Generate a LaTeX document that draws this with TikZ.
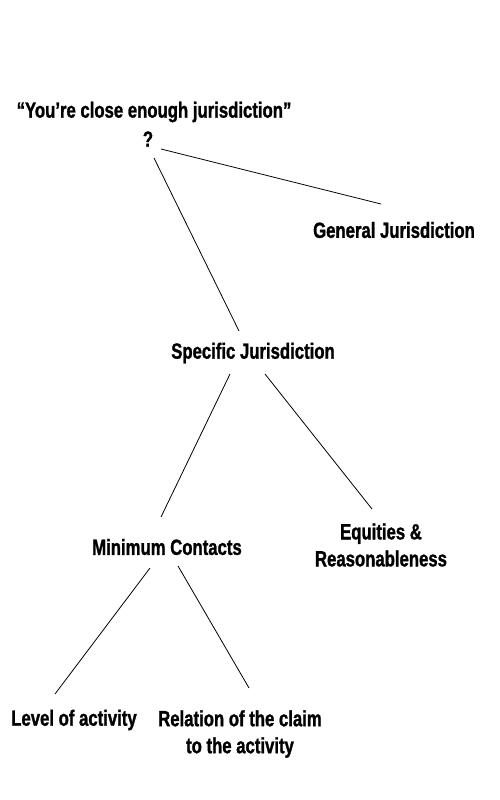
\documentclass[tikz,border=0pt]{standalone}
\usepackage{fontspec}
\setmainfont{Liberation Sans}[FakeStretch=0.76,BoldFeatures={FakeBold=1.2}]
\begin{document}
\begin{tikzpicture}[x=1pt,y=-1pt,
  lbl/.style={font=\fontsize{22}{27}\selectfont\bfseries, align=center, inner sep=0pt},
  conn/.style={line width=0.8pt, black}]
\useasboundingbox (0,0) rectangle (500,800);
\node[lbl] (close) at (154,112) {“You’re close enough jurisdiction”};
\node[lbl] (q) at (148,139) {?};
\node[lbl] (gen) at (394,230) {General Jurisdiction};
\node[lbl] (spec) at (253,353) {Specific Jurisdiction};
\node[lbl] (min) at (167,547) {Minimum Contacts};
\node[lbl] (eq) at (381,545) {Equities \&\\Reasonableness};
\node[lbl] (lev) at (74,720) {Level of activity};
\node[lbl] (rel) at (240,734) {Relation of the claim\\to the activity};
\coordinate (q1) at (161,149);
\coordinate (g1) at (381,204);
\coordinate (q2) at (154,158);
\coordinate (s1) at (239,331);
\coordinate (s2) at (230,374);
\coordinate (m1) at (161,517);
\coordinate (s3) at (265,374);
\coordinate (e1) at (372,509);
\coordinate (m2) at (150,568);
\coordinate (l1) at (55,694);
\coordinate (m3) at (178,566);
\coordinate (r1) at (249,688);
\draw[conn] (q1) -- (g1);
\draw[conn] (q2) -- (s1);
\draw[conn] (s2) -- (m1);
\draw[conn] (s3) -- (e1);
\draw[conn] (m2) -- (l1);
\draw[conn] (m3) -- (r1);
\end{tikzpicture}
\end{document}
